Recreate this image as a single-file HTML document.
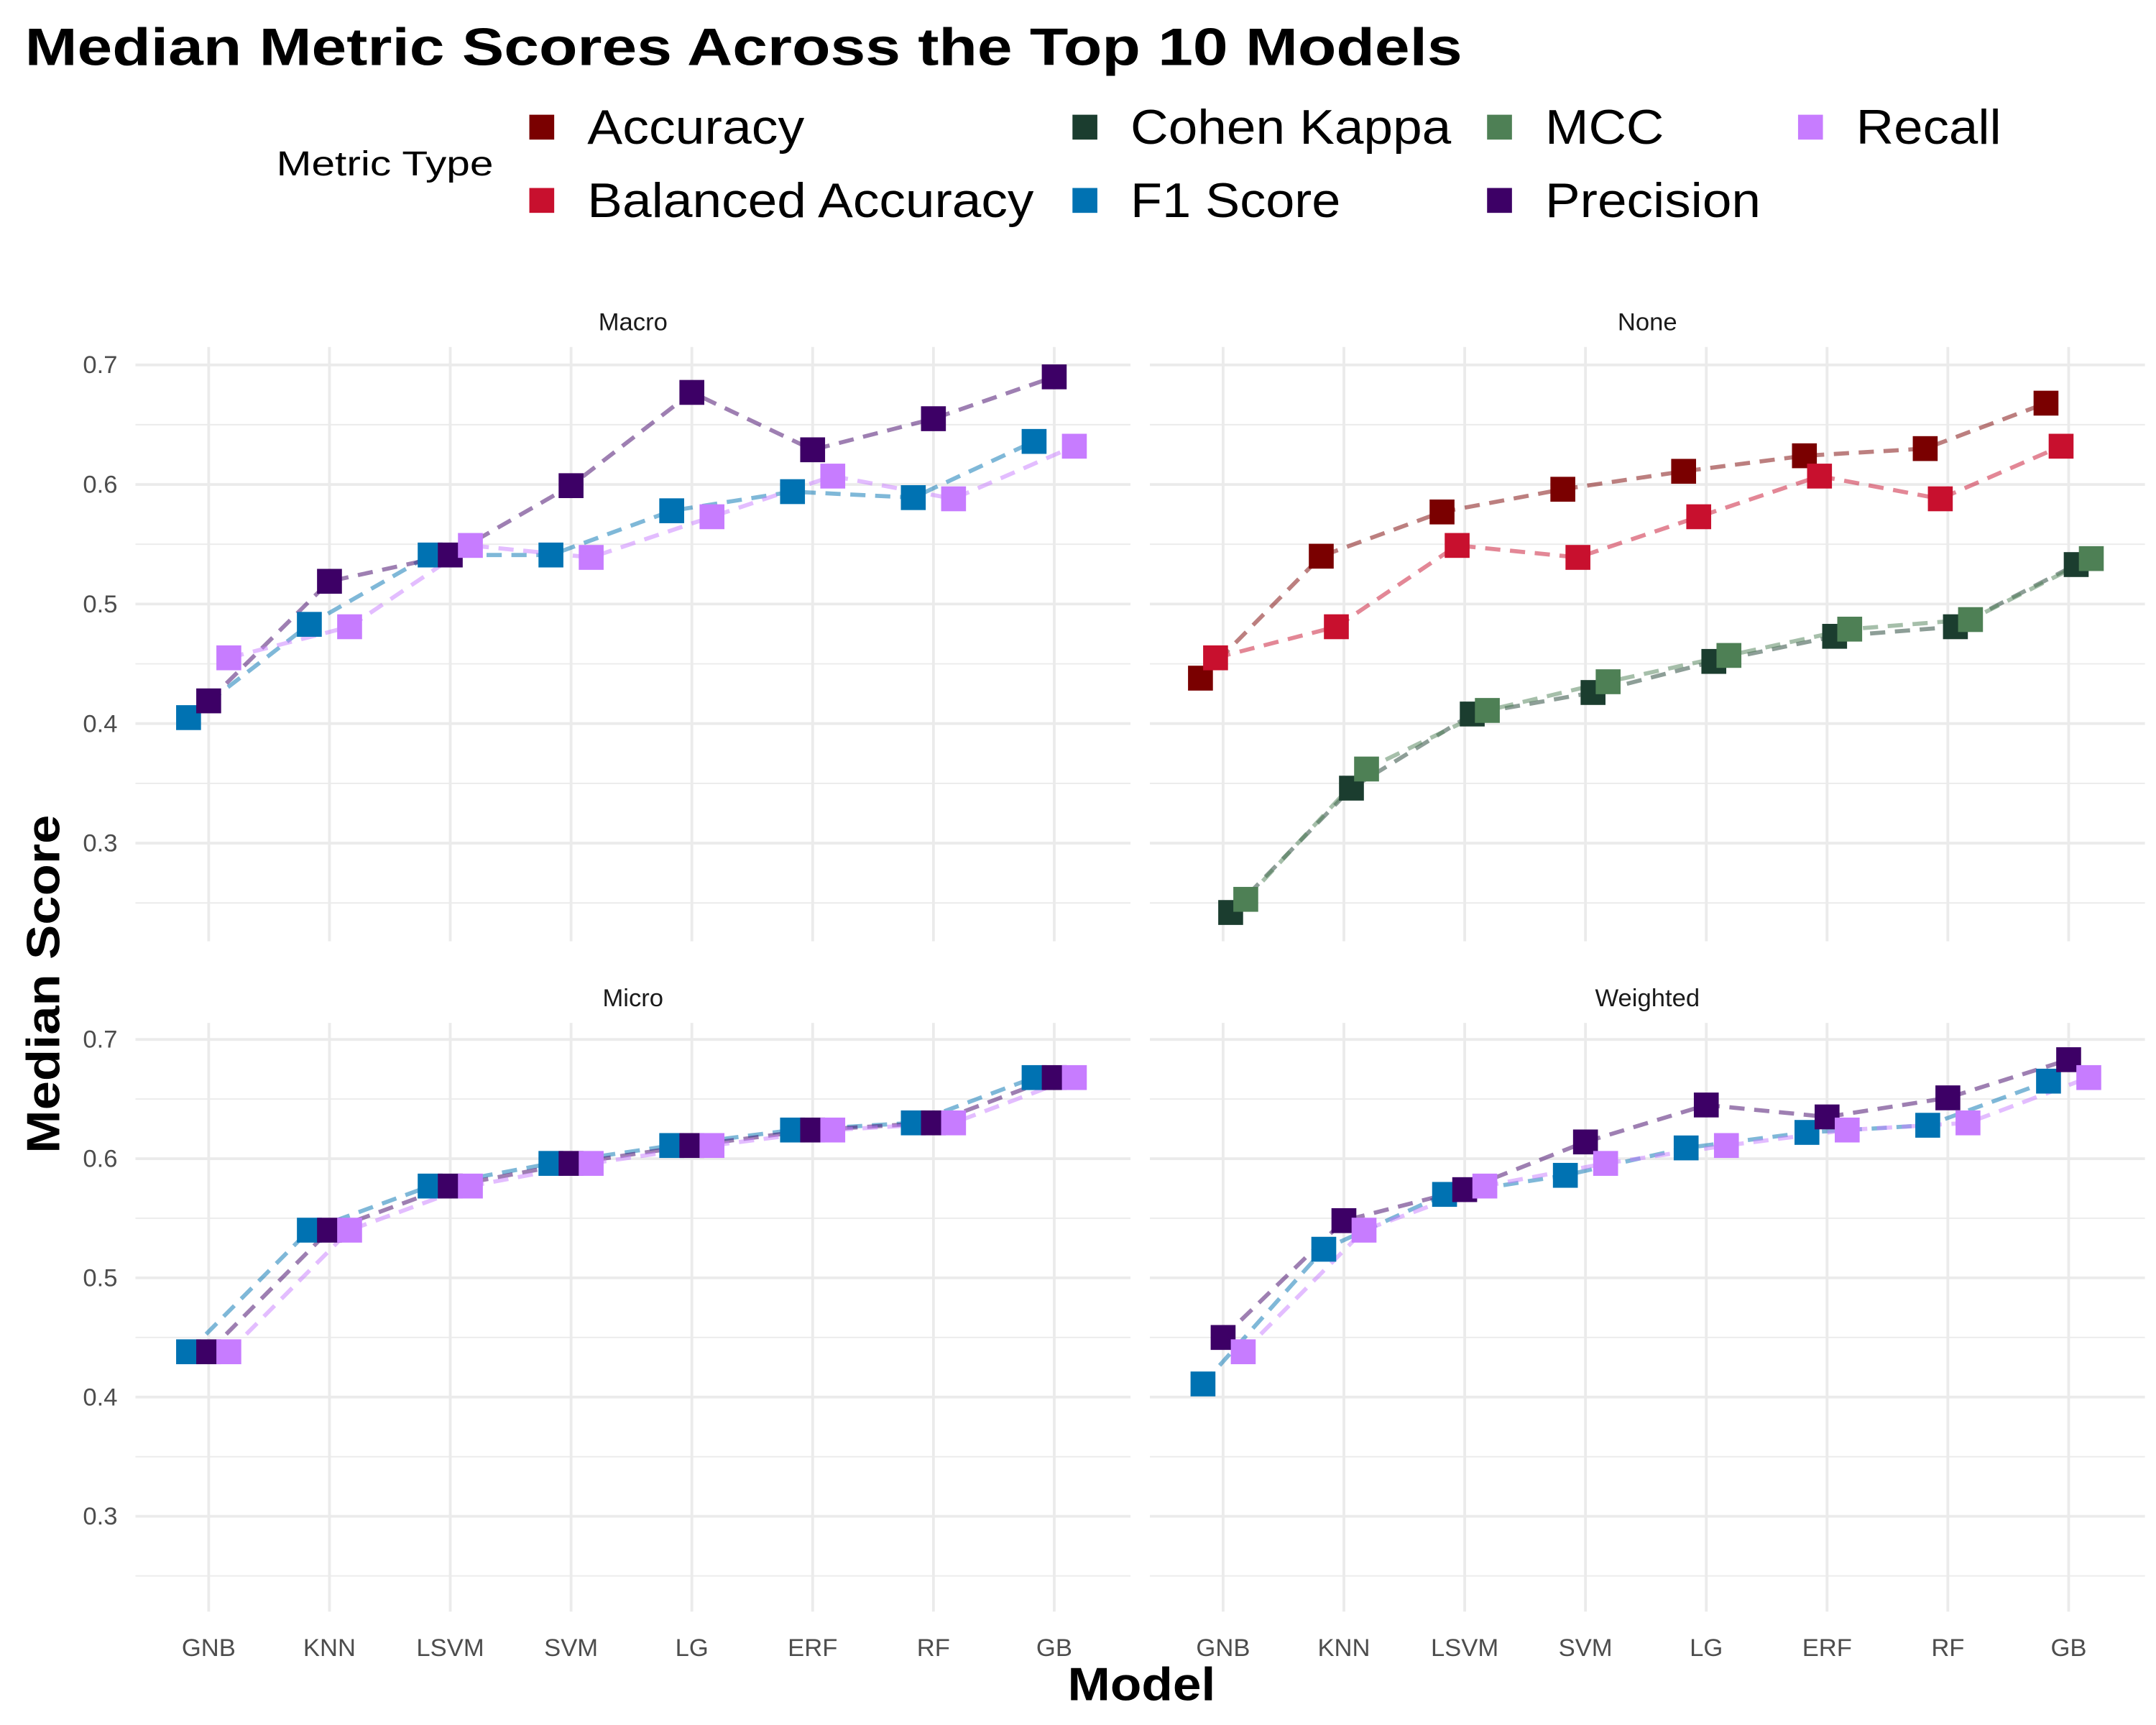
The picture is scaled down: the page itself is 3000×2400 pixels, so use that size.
<!DOCTYPE html>
<html><head><meta charset="utf-8"><style>
html,body{margin:0;padding:0;background:#fff;}
svg{display:block;font-family:"Liberation Sans",Arial,sans-serif;}
</style></head><body>
<svg id="chart" width="3000" height="2400" viewBox="0 0 1560 1248" xmlns="http://www.w3.org/2000/svg">
<rect width="1560" height="1248" fill="#fff"/>
<text x="18" y="47" font-size="38" font-weight="bold" fill="#000" textLength="1040" lengthAdjust="spacingAndGlyphs">Median Metric Scores Across the Top 10 Models</text>
<g id="legend"></g>
<g id="panels"></g>
<text transform="translate(43,712) rotate(-90)" text-anchor="middle" font-size="34" font-weight="bold" fill="#000" textLength="245" lengthAdjust="spacingAndGlyphs">Median Score</text>
<text x="826" y="1230" text-anchor="middle" font-size="34" font-weight="bold" fill="#000" textLength="107" lengthAdjust="spacingAndGlyphs">Model</text>
</svg>
<script>
const models = ["GNB","KNN","LSVM","SVM","LG","ERF","RF","GB"];
const yTicks = [0.3,0.4,0.5,0.6,0.7];
const yMinor = [0.25,0.35,0.45,0.55,0.65];
const metricNames = ["Accuracy","Balanced Accuracy","Cohen Kappa","F1 Score","MCC","Precision","Recall"];
const metricColors = {"Accuracy":"#7a0000","Balanced Accuracy":"#c8102e","Cohen Kappa":"#1b3d2f","F1 Score":"#0072b2","MCC":"#4e8055","Precision":"#3d0066","Recall":"#c77cff"};
const macroF1 = [0.405,0.483,0.541,0.541,0.578,0.594,0.589,0.636];
const macroPrecision = [0.419,0.519,0.541,0.599,0.677,0.629,0.655,0.690];
const macroRecall = [0.455,0.481,0.549,0.539,0.573,0.607,0.588,0.632];
const noneAccuracy = [0.438,0.540,0.577,0.596,0.611,0.624,0.630,0.668];
const noneBalanced = [0.455,0.481,0.549,0.539,0.573,0.607,0.588,0.632];
const noneKappa = [0.242,0.346,0.408,0.426,0.452,0.473,0.481,0.533];
const noneMCC = [0.253,0.362,0.411,0.435,0.457,0.479,0.487,0.538];
const microF1 = [0.438,0.540,0.577,0.596,0.611,0.624,0.630,0.668];
const microPrecision = [0.438,0.540,0.577,0.596,0.611,0.624,0.630,0.668];
const microRecall = [0.438,0.540,0.577,0.596,0.611,0.624,0.630,0.668];
const weightedF1 = [0.411,0.524,0.570,0.586,0.609,0.622,0.628,0.665];
const weightedPrecision = [0.450,0.548,0.574,0.614,0.645,0.635,0.651,0.683];
const weightedRecall = [0.438,0.540,0.577,0.596,0.611,0.624,0.630,0.668];

const NS="http://www.w3.org/2000/svg";
function mk(tag,attrs,parent){const e=document.createElementNS(NS,tag);for(const k in attrs)e.setAttribute(k,attrs[k]);parent.appendChild(e);return e;}
const leg=document.getElementById('legend');
const panelsG=document.getElementById('panels');

let t=mk('text',{x:200,y:127,'font-size':25,fill:'#000',textLength:157,lengthAdjust:'spacingAndGlyphs'},leg);t.textContent='Metric Type';


const legPos=[[392,92],[392,145],[785,92],[785,145],[1085,92],[1085,145],[1310,92]];
const legW=[157,323,232,152,86,156,105];
metricNames.forEach((m,i)=>{
  const g=mk('g',{},leg);
  
  
  const [x,y]=legPos[i];
  mk('rect',{x:x-9,y:y-9,width:18,height:18,fill:metricColors[m]},g);
  const tx=mk('text',{x:x+33,y:y+12,'font-size':35,fill:'#000',textLength:legW[i],lengthAdjust:'spacingAndGlyphs'},g);tx.textContent=m;
});

const panels=[
 {name:"Macro",x0:98,x1:818,top:251,bot:681,y07:264,k:865,series:[["F1 Score",macroF1],["Precision",macroPrecision],["Recall",macroRecall]],yl:true,xl:false},
 {name:"None",x0:832,x1:1552,top:251,bot:681,y07:264,k:865,series:[["Accuracy",noneAccuracy],["Balanced Accuracy",noneBalanced],["Cohen Kappa",noneKappa],["MCC",noneMCC]],yl:false,xl:false},
 {name:"Micro",x0:98,x1:818,top:740,bot:1166,y07:752,k:862.5,series:[["F1 Score",microF1],["Precision",microPrecision],["Recall",microRecall]],yl:true,xl:true},
 {name:"Weighted",x0:832,x1:1552,top:740,bot:1166,y07:752,k:862.5,series:[["F1 Score",weightedF1],["Precision",weightedPrecision],["Recall",weightedRecall]],yl:false,xl:true}
];
panels.forEach(p=>{
  const g=mk('g',{},panelsG);
  
  
  const yS=v=>p.y07+(0.7-v)*p.k;
  const step=87.4, first=p.x0+53;
  const xS=i=>first+i*step;
  yMinor.forEach(v=>{mk('line',{x1:p.x0,x2:p.x1,y1:yS(v),y2:yS(v),stroke:'#ebebeb','stroke-width':1},g);});
  yTicks.forEach(v=>{mk('line',{x1:p.x0,x2:p.x1,y1:yS(v),y2:yS(v),stroke:'#ebebeb','stroke-width':2},g);
    if(p.yl){const tl=mk('text',{x:p.x0-13,y:yS(v)+6,'text-anchor':'end','font-size':18,fill:'#4d4d4d'},g);tl.textContent=v.toFixed(1);
      
      }
  });
  models.forEach((m,i)=>{mk('line',{x1:xS(i),x2:xS(i),y1:p.top,y2:p.bot,stroke:'#ebebeb','stroke-width':2},g);
    if(p.xl){const tl=mk('text',{x:xS(i),y:1198,'text-anchor':'middle','font-size':18,fill:'#4d4d4d'},g);tl.textContent=m;
      
      }
  });
  const st=mk('text',{x:(p.x0+p.x1)/2,y:p.top-12,'text-anchor':'middle','font-size':18,fill:'#1a1a1a'},g);st.textContent=p.name;
  
  
  const n=p.series.length, w=43.7/n;
  p.series.forEach(([m,vals],si)=>{
    const off=(si-(n-1)/2)*w;
    const pts=vals.map((v,i)=>(xS(i)+off)+','+yS(v)).join(' ');
    const ln=mk('polyline',{points:pts,fill:'none',stroke:metricColors[m],'stroke-width':3,'stroke-dasharray':'11 7','stroke-opacity':0.5},g);
    
    
  });
  p.series.forEach(([m,vals],si)=>{
    const off=(si-(n-1)/2)*w;
    vals.forEach((v,i)=>{
      const r=mk('rect',{x:xS(i)+off-9,y:yS(v)-9,width:18,height:18,fill:metricColors[m]},g);
      
      
    });
  });
});
</script>
</body></html>
